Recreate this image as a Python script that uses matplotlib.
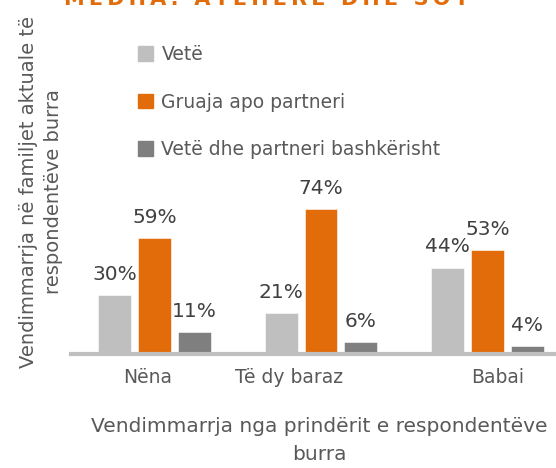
import numpy as np
import matplotlib.pyplot as plt
from matplotlib.patches import Patch

plt.rcParams['font.family'] = ['DejaVu Sans']

categories = ["Nëna", "Të dy baraz", "Babai"]
series_names = ["Vetë", "Gruaja apo partneri", "Vetë dhe partneri bashkërisht"]
vete = [30, 21, 44]
gruaja = [59, 74, 53]
bashke = [11, 6, 4]
# tick labels in the original sit a little off the group centres
tick_pos = [-0.04, 0.81, 2.06]

colors = ["#bfbfbf", "#e36c0a", "#7f7f7f"]
text_col = "#595959"

W, H = 556, 468
fig = plt.figure(figsize=(W / 100, H / 100), dpi=100)
# axes in pixel terms: x=-0.5 at 71px, one category = 166.5px, baseline at y=354
ax = fig.add_axes([71.25 / W, (H - 354) / H, 499.5 / W, 196 / H])

x = np.arange(len(categories))
bw = 0.198
off = 0.24
for i, (vals, c) in enumerate(zip([vete, gruaja, bashke], colors)):
    bars = ax.bar(x + (i - 1) * off, vals, bw, color=c, edgecolor="white", linewidth=0.4)
    for b, v in zip(bars, vals):
        ax.annotate(f"{v}%", (b.get_x() + b.get_width() / 2, v), xytext=(0, 11),
                    textcoords="offset points", ha="center", va="baseline",
                    fontsize=14.5, color="#404040")

ax.set_xlim(-0.5, 2.5)
ax.set_ylim(0, 100)
for s in ["top", "left", "right"]:
    ax.spines[s].set_visible(False)
ax.spines["bottom"].set_color("#bfbfbf")
ax.spines["bottom"].set_linewidth(3)
ax.set_yticks([])
ax.set_xticks(tick_pos)
ax.set_xticklabels(categories, fontsize=13.5, color=text_col)
ax.tick_params(axis="x", length=0, pad=10)

fig.legend(handles=[Patch(color=c) for c in colors], labels=series_names,
           loc="upper left", bbox_to_anchor=(138 / W, 1 - 45 / H),
           frameon=False, fontsize=13.5, labelcolor=text_col,
           handlelength=0.8, handleheight=0.8, handletextpad=0.45,
           labelspacing=1.52, borderpad=0, borderaxespad=0)

fig.text(41 / W, 1 - 192 / H, "Vendimmarrja në familjet aktuale të\nrespondentëve burra",
         rotation=90, ha="center", va="center", fontsize=14, color=text_col,
         linespacing=1.45)
fig.text(319 / W, 1 - 441 / H, "Vendimmarrja nga prindërit e respondentëve\nburra",
         ha="center", va="center", fontsize=14.5, color=text_col, linespacing=1.6)

title = "MEDHA: ATEHERË DHE SOT"
fig.text(266 / W, 1 - 5 / H, "\u2009".join(title), ha="center", va="baseline",
         fontsize=15, fontweight="bold", color="#e36c0a")

fig.savefig("out.png", dpi=100)
